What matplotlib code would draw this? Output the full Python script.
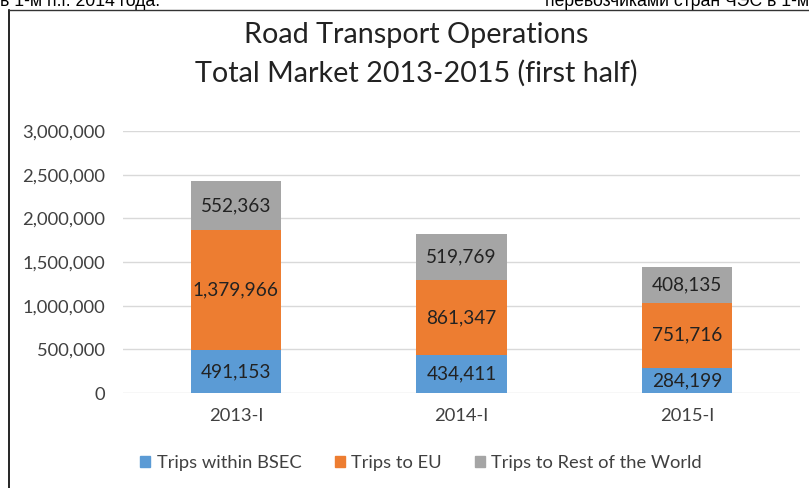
import matplotlib
matplotlib.use("Agg")
import matplotlib.pyplot as plt
from matplotlib.lines import Line2D
import numpy as np

categories = ["2013-I", "2014-I", "2015-I"]
within_bsec = [491153, 434411, 284199]
to_eu = [1379966, 861347, 751716]
rest_world = [552363, 519769, 408135]
series_names = ["Trips within BSEC", "Trips to EU", "Trips to Rest of the World"]
colors = ["#5B9BD5", "#ED7D31", "#A5A5A5"]

plt.rcParams['font.family'] = ['Lato', 'DejaVu Sans']

fig = plt.figure(figsize=(8.09, 4.88), dpi=100)
ax = fig.add_axes([123/809, 1-393/488, (800-123)/809, (393-131)/488])

x = np.arange(len(categories))
w = 0.4
bottom = np.zeros(len(categories))
for vals, name, c in zip([within_bsec, to_eu, rest_world], series_names, colors):
    ax.bar(x, vals, w, bottom=bottom, color=c, label=name, zorder=3)
    for xi, b, v in zip(x, bottom, vals):
        ax.text(xi, b + v/2, f"{v:,}", ha='center', va='center', fontsize=13.7, color='#222222', zorder=4)
    bottom = bottom + np.array(vals)

ax.set_xlim(-0.5, 2.5)
ax.set_ylim(0, 3000000)
yt = np.arange(0, 3000001, 500000)
ax.set_yticks(yt)
ax.set_yticklabels([f"{int(v):,}" for v in yt])
ax.set_xticks(x)
ax.set_xticklabels(categories)
ax.tick_params(axis='both', length=0, labelsize=13.2, colors='#404040')
ax.tick_params(axis='x', pad=11)
ax.tick_params(axis='y', pad=13)
ax.yaxis.grid(True, color='#D9D9D9', linewidth=1, zorder=0)
for s in ax.spines.values():
    s.set_visible(False)

fig.text(416/809, 1-35/488, "Road Transport Operations", ha='center', va='center', fontsize=20.7, color='#222222')
fig.text(416/809, 1-73/488, "Total Market 2013-2015 (first half)", ha='center', va='center', fontsize=20.7, color='#222222')

handles = [plt.Rectangle((0, 0), 1, 1, color=c) for c in colors]
fig.legend(handles, series_names, loc='center', bbox_to_anchor=(421/809, 1-463/488), ncol=3,
           frameon=False, fontsize=13.2, handlelength=0.55, handleheight=0.55, columnspacing=1.8, handletextpad=0.35,
           labelcolor='#404040')

# cropped surrounding text and frame
fig.text(0/809, 1-6/488, "в 1-м п.г. 2014 года.", ha='left', va='baseline', fontsize=12.7,
         family=['Liberation Sans'], color='black')
fig.text(809/809, 1-6/488, "перевозчиками стран ЧЭС в 1-м", ha='right', va='baseline', fontsize=12.7,
         family=['Liberation Sans'], color='black')
fig.add_artist(Line2D([9/809, 9/809], [0, 1-10/488], color='black', linewidth=1.2, transform=fig.transFigure))
fig.add_artist(Line2D([9/809, 1], [1-10/488, 1-10/488], color='#333333', linewidth=1, transform=fig.transFigure))

fig.savefig("out.png", dpi=100)
